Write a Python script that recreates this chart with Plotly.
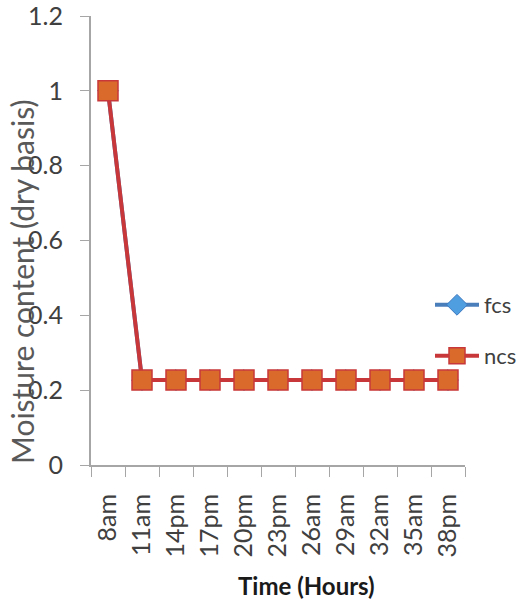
import plotly.graph_objects as go

# Drying time labels and moisture content (dry basis) for the two samples
time_labels = ["8am", "11am", "14pm", "17pm", "20pm", "23pm", "26am", "29am", "32am", "35am", "38pm"]
fcs_values = [1.0, 0.227, 0.227, 0.227, 0.227, 0.227, 0.227, 0.227, 0.227, 0.227, 0.227]
ncs_values = [1.0, 0.227, 0.227, 0.227, 0.227, 0.227, 0.227, 0.227, 0.227, 0.227, 0.227]
y_ticks = [0, 0.2, 0.4, 0.6, 0.8, 1, 1.2]
y_tick_text = ["0", "0.2", "0.4", "0.6", "0.8", "1", "1.2"]

FONT = "Lato, 'Open Sans', sans-serif"
AXIS_GREY = "#a6a6a6"
LEFT, RIGHT, TOP, BOTTOM = 91, 465, 16, 465
PW, PH = RIGHT - LEFT, BOTTOM - TOP

fig = go.Figure()
fig.add_trace(go.Scatter(
    x=time_labels, y=fcs_values, name="fcs", mode="lines+markers",
    line=dict(color="#4a7ebb", width=4),
    marker=dict(symbol="diamond", size=16, color="#4f9fe0", line=dict(color="#3c78c0", width=1)),
    legend="legend", showlegend=True,
))
fig.add_trace(go.Scatter(
    x=time_labels, y=ncs_values, name="ncs", mode="lines+markers",
    line=dict(color="#c8383a", width=4),
    marker=dict(symbol="square", size=20, color="#da6a2c", line=dict(color="#c8383a", width=1.5)),
    legend="legend2", showlegend=True,
))

legend_style = dict(xanchor="left", yanchor="middle", bgcolor="rgba(0,0,0,0)",
                    font=dict(size=22, color="#404040", family=FONT),
                    itemwidth=44, itemsizing="trace")

fig.update_layout(
    width=522, height=600,
    margin=dict(l=LEFT, r=522 - RIGHT, t=TOP, b=600 - BOTTOM, autoexpand=False),
    paper_bgcolor="white", plot_bgcolor="white",
    font=dict(family=FONT, color="#404040"),
    showlegend=True,
    legend=dict(x=(430 - LEFT) / PW, y=(BOTTOM - 305) / PH, **legend_style),
    legend2=dict(x=(430 - LEFT) / PW, y=(BOTTOM - 356) / PH, **legend_style),
    xaxis=dict(
        type="category", range=[-0.5, len(time_labels) - 0.5], automargin=False,
        tickson="boundaries", ticks="outside", ticklen=10, tickcolor=AXIS_GREY,
        showline=True, linecolor=AXIS_GREY, linewidth=2, showgrid=False,
        tickangle=-90, tickfont=dict(size=25, color="#404040"),
        ticklabelstandoff=17, zeroline=False,
    ),
    yaxis=dict(
        range=[0, 1.2], tickvals=y_ticks, ticktext=y_tick_text, automargin=False,
        ticklabeloverflow="allow",
        ticks="outside", ticklen=9, tickcolor=AXIS_GREY,
        showline=True, linecolor=AXIS_GREY, linewidth=2, showgrid=False,
        zeroline=False, tickfont=dict(size=25, color="#404040"),
        ticklabelstandoff=12,
    ),
    annotations=[
        dict(text="Moisture content (dry basis)", textangle=-90,
             xref="paper", yref="paper", x=(22 - LEFT) / PW, y=(BOTTOM - 282) / PH,
             xanchor="center", yanchor="middle", showarrow=False,
             font=dict(size=30, color="#595959", family=FONT)),
        dict(text="<b>Time (Hours)</b>",
             xref="paper", yref="paper", x=(306 - LEFT) / PW, y=-(585 - BOTTOM) / PH,
             xanchor="center", yanchor="middle", showarrow=False,
             font=dict(size=24, color="#1a1a1a", family=FONT)),
    ],
)

fig.write_html("out.html")
